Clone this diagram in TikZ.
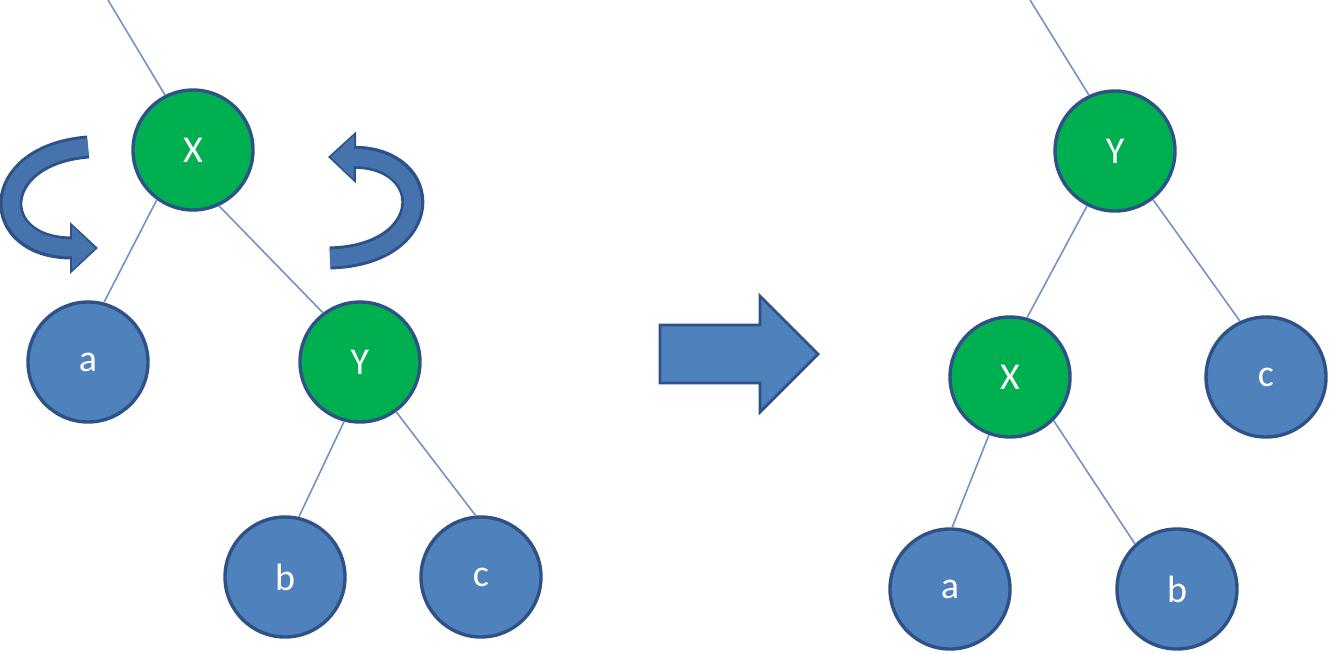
\documentclass[tikz,border=0pt]{standalone}
\usepackage{fontspec}
\setmainfont{Carlito}
\usepackage{tikz}
\usetikzlibrary{positioning,arrows.meta}

\definecolor{nodegreen}{HTML}{00B050}
\definecolor{nodeblue}{HTML}{4F81BD}
\definecolor{rimblue}{HTML}{2E5287}
\definecolor{edgeblue}{HTML}{7393C4}
\definecolor{turnblue}{HTML}{4673AD}

\begin{document}
\begin{tikzpicture}[x=0.5pt, y=-0.5pt, on grid,
    knot/.style={circle, draw=rimblue, line width=1.7pt, minimum size=60pt,
      inner sep=0pt, text=white, font=\fontsize{19}{23}\selectfont},
    red node/.style={knot, fill=nodegreen},
    leaf/.style={knot, fill=nodeblue},
    edge/.style={draw=edgeblue, line width=0.8pt},
    turn/.style={draw=rimblue, line width=11.5pt, -{Triangle[length=14pt, width=25pt]}},
    turn fill/.style={draw=turnblue, line width=8.5pt, shorten >=1.4pt,
      -{Triangle[length=11.5pt, width=21pt]}}]
  \useasboundingbox (0,0) rectangle (1336,653);

  % before the rotation
  \node [red node] (xl) at (193,150) {X};
  \node [leaf, below left=106pt and 52.5pt of xl] (al) {a};
  \node [red node, below right=106pt and 83.5pt of xl] (yl) {Y};
  \node [leaf, below left=107.5pt and 37.5pt of yl] (bl) {b};
  \node [leaf, below right=107.5pt and 60.5pt of yl] (cl) {c};
  \coordinate (tl) at (108,0);

  \draw [edge] (tl) -- (xl.117) (xl.234) -- (al.75) (xl.-65) -- (yl.127)
    (yl.-105) -- (bl.77) (yl.-54) -- (cl.95);

  % rotation arrows
  \draw [turn] (88,147) .. controls (-12,155) and (-12,248) .. (98,248);
  \draw [turn fill] (88,147) .. controls (-12,155) and (-12,248) .. (98,248);
  \draw [turn] (330,258) .. controls (436,255) and (436,158) .. (328,157);
  \draw [turn fill] (330,258) .. controls (436,255) and (436,158) .. (328,157);

  % big arrow
  \draw [draw=rimblue, fill=nodeblue, line width=1.4pt]
    (660,325) -- (760,325) -- (760,296) -- (818,354) -- (760,412)
    -- (760,383) -- (660,383) -- cycle;

  % after the rotation
  \node [red node] (yr) at (1115,151) {Y};
  \node [red node, below left=113pt and 52.5pt of yr] (xr) {X};
  \node [leaf, below right=113pt and 75.5pt of yr] (cr) {c};
  \node [leaf, below left=106pt and 30pt of xr] (ar) {a};
  \node [leaf, below right=106pt and 83.5pt of xr] (br) {b};
  \coordinate (tr) at (1030,0);

  \draw [edge] (tr) -- (yr.115) (yr.-117) -- (xr.74) (yr.-52) -- (cr.115)
    (xr.-110) -- (ar.88) (xr.-45) -- (br.133);
\end{tikzpicture}
\end{document}
